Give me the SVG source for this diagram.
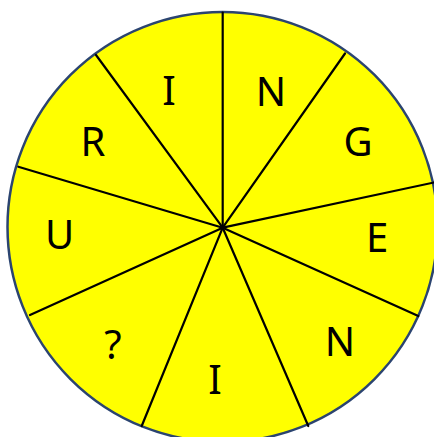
<svg xmlns="http://www.w3.org/2000/svg" width="434" height="437" viewBox="0 0 434 437">
<style>
.disc{fill:#ffff00;stroke:#2b4470;stroke-width:2.5}
.spoke{stroke:#000;stroke-width:2.2;stroke-linecap:round}
.lbl{font-family:"Noto Sans","Open Sans","Liberation Sans",sans-serif;font-size:40px;fill:#000;text-anchor:middle}
</style>
<rect width="434" height="437" fill="#fff"/>
<g id="wheel">
<circle class="disc" cx="222.5" cy="227" r="215"/>
</g>
<g id="connectors">
<line class="spoke" x1="222.7" y1="227.7" x2="222.7" y2="12.5"/>
<line class="spoke" x1="222.7" y1="227.7" x2="345" y2="53.5"/>
<line class="spoke" x1="222.7" y1="227.7" x2="434" y2="182.5"/>
<line class="spoke" x1="222.7" y1="227.7" x2="418.3" y2="316"/>
<line class="spoke" x1="222.7" y1="227.7" x2="308.3" y2="426"/>
<line class="spoke" x1="222.7" y1="227.7" x2="141.7" y2="426"/>
<line class="spoke" x1="222.7" y1="227.7" x2="30" y2="315"/>
<line class="spoke" x1="222.7" y1="227.7" x2="18.3" y2="166.7"/>
<line class="spoke" x1="222.7" y1="227.7" x2="96" y2="55"/>
</g>
<g id="seg-I1"><text class="lbl" x="169" y="105">I</text></g>
<g id="seg-N1"><text class="lbl" x="271" y="106">N</text></g>
<g id="seg-G"><text class="lbl" x="358" y="156">G</text></g>
<g id="seg-E"><text class="lbl" x="377" y="252">E</text></g>
<g id="seg-N2"><text class="lbl" x="340" y="356">N</text></g>
<g id="seg-I2"><text class="lbl" x="215" y="394">I</text></g>
<g id="seg-Q"><text class="lbl" x="113" y="359">?</text></g>
<g id="seg-U"><text class="lbl" x="59.5" y="249">U</text></g>
<g id="seg-R"><text class="lbl" x="93" y="156">R</text></g>
</svg>
